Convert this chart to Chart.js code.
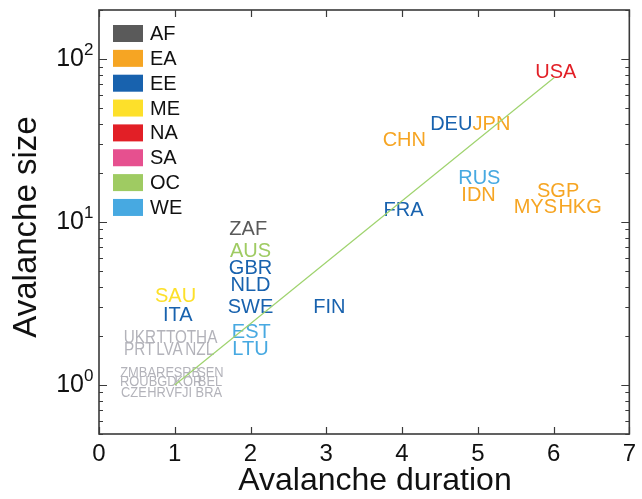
<!DOCTYPE html>
<html><head><meta charset="utf-8">
<script src="https://cdn.jsdelivr.net/npm/chart.js@4.4.0/dist/chart.umd.min.js"></script>
<style>html,body{margin:0;padding:0;background:#fff;}#wrap{width:642px;height:499px;}</style>
</head><body><div id="wrap"><canvas id="c" width="642" height="499"></canvas></div>
<script>
// ---- data ----
const regions = ['AF','EA','EE','ME','NA','SA','OC','WE'];
const countries = ['USA','DEU','JPN','CHN','RUS','IDN','SGP','MYS','HKG','FRA',
  'ZAF','AUS','GBR','NLD','SWE','FIN','SAU','ITA','EST','LTU',
  'UKR','TTO','THA','PRT','LVA','NZL',
  'ZMB','ARE','SRB','SEN','ROU','BGD','KOR','BEL','CZE','HRV','FJI','BRA'];
const countryRegion = ['NA','EE','EA','EA','WE','EA','EA','EA','EA','EE',
  'AF','OC','EE','EE','EE','EE','ME','EE','WE','WE',
  'other1','other1','other1','other1','other1','other1',
  'other2','other2','other2','other2','other2','other2','other2','other2','other2','other2','other2','other2'];
const duration = [6.03,4.65,5.18,4.03,5.02,5.01,6.06,5.76,6.35,4.02,
  1.97,2.00,2.00,2.00,2.00,3.04,1.01,1.04,2.01,2.00,
  0.54,0.96,1.36,0.53,0.93,1.33,
  0.46,0.815,1.16,1.47,0.466,0.84,1.18,1.465,0.46,0.815,1.11,1.45];
const size = [82.2,39.6,39.6,31.6,18.5,14.6,15.5,12.2,12.2,11.8,
  9.06,6.56,5.17,4.07,2.99,2.99,3.49,2.67,2.10,1.66,
  1.95,1.95,1.95,1.635,1.635,1.635,
  1.18,1.18,1.18,1.18,1.036,1.036,1.036,1.036,0.894,0.894,0.894,0.894];
const fitDuration = [1.0, 6.01];
const fitSize = [1.0, 77];
const xTicks = [0,1,2,3,4,5,6,7];
const yTickExponents = [0,1,2];
const xTitle = 'Avalanche duration';
const yTitle = 'Avalanche size';

// ---- style ----
const regionColors = {AF:'#5a5a5a',EA:'#f6a523',EE:'#1862ae',ME:'#fde02a',NA:'#e21f26',SA:'#e6508f',OC:'#9fcb62',WE:'#47a9e1',other1:'#b3b3ba',other2:'#b3b3ba'};
const groupFont = {other1:18, other2:14};
const groupSquash = {other1:0.85, other2:0.92};
const FONT = '"Liberation Sans", Arial, sans-serif';

const groups = regions.concat(['other1','other2']);
const datasets = groups.map(g => {
  const idx = countries.map((c,i)=>i).filter(i => countryRegion[i] === g);
  return {
    type:'scatter', label:g,
    data: idx.map(i => ({x:duration[i], y:size[i]})),
    codes: idx.map(i => countries[i]),
    textColor: regionColors[g],
    textSize: groupFont[g] || 20,
    textSquash: groupSquash[g] || 1,
    pointRadius:0, pointHoverRadius:0, showLine:false
  };
});
datasets.push({
  type:'line', label:'fit',
  data: fitDuration.map((d,i)=>({x:d, y:fitSize[i]})),
  borderColor:'#9fd36e', borderWidth:1.2, pointRadius:0, fill:false, tension:0
});

const decor = {
  id:'decor',
  beforeDatasetsDraw(chart){
    const ctx = chart.ctx;
    chart.data.datasets.forEach((ds,i)=>{
      if(!ds.codes) return;
      const meta = chart.getDatasetMeta(i);
      meta.data.forEach((el,j)=>{
        ctx.save();
        ctx.textAlign='center'; ctx.textBaseline='middle';
        ctx.font = ds.textSize+'px '+FONT;
        ctx.fillStyle = ds.textColor;
        ctx.translate(el.x, el.y);
        ctx.scale(ds.textSquash, 1);
        ctx.fillText(ds.codes[j], 0, 0);
        ctx.restore();
      });
    });
  },
  afterDraw(chart){
    const ctx = chart.ctx, a = chart.chartArea;
    const xs = chart.scales.x, ys = chart.scales.y;
    ctx.save();
    ctx.strokeStyle='#3a3a3a'; ctx.lineWidth=1.6;
    ctx.strokeRect(a.left, a.top, a.right-a.left, a.bottom-a.top);
    ctx.lineWidth=1.2;
    ctx.beginPath();
    xTicks.forEach(v=>{
      const p = Math.round(xs.getPixelForValue(v))+0.5;
      ctx.moveTo(p,a.bottom); ctx.lineTo(p,a.bottom-7);
      ctx.moveTo(p,a.top); ctx.lineTo(p,a.top+7);
    });
    for(let e=-1;e<=2;e++){
      for(let m=1;m<=9;m++){
        const v = m*Math.pow(10,e);
        if(v<ys.min-1e-9 || v>ys.max+1e-9) continue;
        const p = Math.round(ys.getPixelForValue(v))+0.5;
        const len = m===1?8:4;
        ctx.moveTo(a.left,p); ctx.lineTo(a.left+len,p);
        ctx.moveTo(a.right,p); ctx.lineTo(a.right-len,p);
      }
    }
    ctx.stroke();
    // y tick labels with superscript
    ctx.fillStyle='#111';
    yTickExponents.forEach(e=>{
      const p = ys.getPixelForValue(Math.pow(10,e));
      ctx.font='25px '+FONT; ctx.textAlign='right'; ctx.textBaseline='middle';
      ctx.fillText('10', a.left-15, p);
      ctx.font='17px '+FONT; ctx.textAlign='left';
      ctx.fillText(String(e), a.left-15, p-9);
    });
    // axis titles
    ctx.fillStyle='#111'; ctx.textAlign='center'; ctx.textBaseline='middle';
    ctx.font='32px '+FONT;
    ctx.fillText(xTitle, 375, 481);
    ctx.save();
    ctx.translate(27, 227); ctx.rotate(-Math.PI/2);
    ctx.font='33px '+FONT;
    ctx.fillText(yTitle, 0, 0);
    ctx.restore();
    // legend
    regions.forEach((r,i)=>{
      const cy = 33.5 + i*24.85;
      ctx.fillStyle = regionColors[r];
      ctx.fillRect(113, cy-8.5, 30, 17);
      ctx.fillStyle='#111'; ctx.font='20px '+FONT; ctx.textAlign='left'; ctx.textBaseline='middle';
      ctx.fillText(r, 150, cy+1);
    });
    ctx.restore();
  }
};

new Chart(document.getElementById('c'), {
  data:{datasets},
  options:{
    responsive:false, animation:false, devicePixelRatio:1,
    layout:{padding:{top:10,right:10,bottom:0,left:0}},
    plugins:{legend:{display:false}, tooltip:{enabled:false}},
    scales:{
      x:{type:'linear', min:0, max:7,
        afterBuildTicks(s){ s.ticks = xTicks.map(v=>({value:v})); },
        afterFit(s){ s.height = 65; },
        grid:{display:false, drawTicks:false}, border:{display:false},
        ticks:{font:{size:24, family:FONT}, color:'#111', padding:6},
        title:{display:false}
      },
      y:{type:'logarithmic', min:0.5, max:200,
        afterBuildTicks(s){ s.ticks = yTickExponents.map(e=>({value:Math.pow(10,e)})); },
        afterFit(s){ s.width = 99; },
        grid:{display:false, drawTicks:false}, border:{display:false},
        ticks:{display:false},
        title:{display:false}
      }
    }
  },
  plugins:[decor]
});
</script></body></html>
